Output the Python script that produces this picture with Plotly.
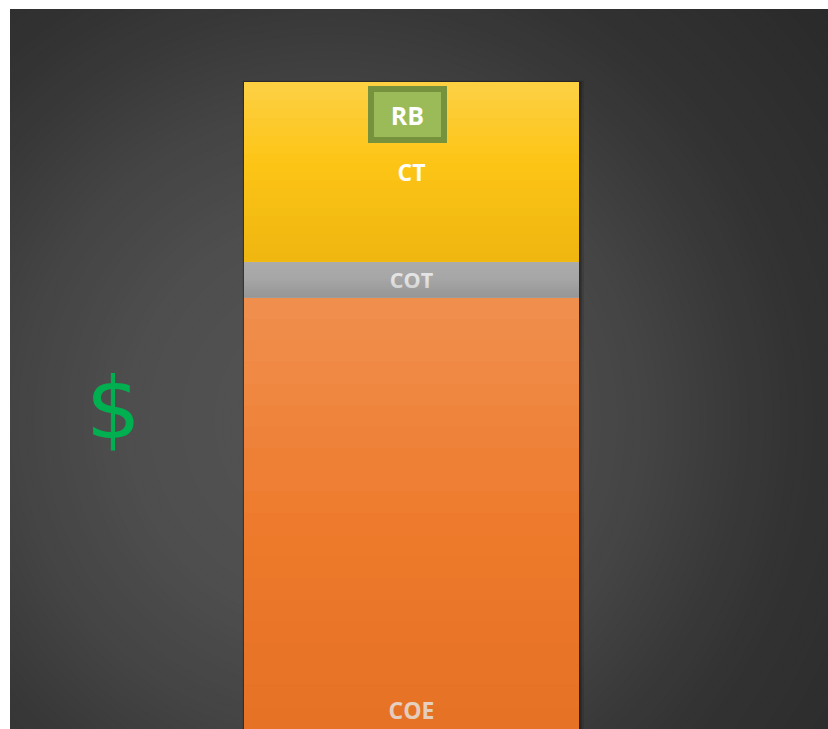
import plotly.graph_objects as go

# ---- data ----
categories = ["Total"]
values_coe = [60]
values_cot = [5]
values_ct = [25]
labels = ["COE", "COT", "CT"]
callout_label = "RB"
symbol_label = "$"

W, H = 828, 729
ML, MT = 10, 9
PW, PH = W - ML, H - MT          # plot area: page x 10..828, y 9..729
OX, OY = ML, MT

tot = values_coe[0] + values_cot[0] + values_ct[0]
b_ct = values_coe[0] + values_cot[0]

px_per_x = 335.0
x_left = -(411.5 - OX) / px_per_x
x_right = x_left + PW / px_per_x
px_per_y = (729 - 82) / tot
y_top = PH / px_per_y


def px2x(px):
    return x_left + (px - OX) / px_per_x


def py2y(py):
    return y_top - (py - OY) / px_per_y


lab_font = dict(family="Open Sans", size=23, weight="bold")

fig = go.Figure()
fig.add_trace(go.Bar(
    x=categories, y=values_coe, name=labels[0], width=1,
    marker=dict(color="#EE7A2C", line=dict(width=0)),
    text=[labels[0]], textposition="inside", insidetextanchor="start",
    textfont=dict(lab_font, color="#EDE3DA"), textangle=0, hoverinfo="skip"))
fig.add_trace(go.Bar(
    x=categories, y=values_cot, name=labels[1], width=1,
    marker=dict(color="#A6A6A6", line=dict(width=0)),
    text=[labels[1]], textposition="inside", insidetextanchor="middle",
    textfont=dict(lab_font, color="#E4E4E4"), textangle=0, hoverinfo="skip"))
fig.add_trace(go.Bar(
    x=categories, y=values_ct, name=labels[2], width=1,
    marker=dict(color="#FDC516", line=dict(width=0)),
    text=[labels[2]], textposition="inside", insidetextanchor="middle",
    textfont=dict(lab_font, color="#FFFFFF"), textangle=0, hoverinfo="skip"))

# ---- background radial glow (styling only) ----
shapes = []
cx, cy = 330, 420
stops = [(0, 84), (200, 78), (320, 68), (400, 58), (480, 50), (650, 42), (900, 40)]


def shade(r):
    for (r0, v0), (r1, v1) in zip(stops, stops[1:]):
        if r0 <= r <= r1:
            return v0 + (v1 - v0) * (r - r0) / (r1 - r0)
    return stops[-1][1]


n = 110
for i in range(n):
    r = 900 - i * (900 - 10) / (n - 1)
    v = shade(r)
    shapes.append(dict(type="circle", xref="x", yref="y",
                       x0=px2x(cx - r), x1=px2x(cx + r),
                       y0=py2y(cy + r), y1=py2y(cy - r),
                       fillcolor="rgb(%.1f,%.1f,%.1f)" % (v, v, v),
                       line=dict(width=0), layer="below"))

# soft shadow, offset to the right
for k, op in [(5, 0.10), (3, 0.15), (1.5, 0.2)]:
    shapes.append(dict(type="rect", xref="x", yref="y",
                       x0=-0.5 - 0.3 * k / px_per_x, x1=0.5 + k / px_per_x,
                       y0=0, y1=tot + 0.3 * k / px_per_y,
                       fillcolor="#000000", opacity=op, line=dict(width=0),
                       layer="below"))


def band(y0, y1, color, op):
    return dict(type="rect", xref="x", yref="y", x0=-0.5, x1=0.5, y0=y0, y1=y1,
                fillcolor=color, opacity=op, line=dict(width=0), layer="above")


steps = 20
for i in range(steps):
    f0, f1 = i / steps, (i + 1) / steps
    mid = (f0 + f1) / 2
    # CT
    y0, y1 = b_ct + values_ct[0] * f0, b_ct + values_ct[0] * f1
    if mid > 0.55:
        shapes.append(band(y0, y1, "#FFFFFF", (mid - 0.55) * 0.45))
    else:
        shapes.append(band(y0, y1, "#C89000", (0.55 - mid) * 0.5))
    # COE
    y0, y1 = values_coe[0] * f0, values_coe[0] * f1
    if mid > 0.45:
        shapes.append(band(y0, y1, "#FFFFFF", (mid - 0.45) * 0.3))
    else:
        shapes.append(band(y0, y1, "#B04000", (0.45 - mid) * 0.3))
    # COT
    y0, y1 = values_coe[0] + values_cot[0] * f0, values_coe[0] + values_cot[0] * f1
    if mid < 0.5:
        shapes.append(band(y0, y1, "#707070", (0.5 - mid) * 0.6))
    else:
        shapes.append(band(y0, y1, "#FFFFFF", (mid - 0.5) * 0.15))

annotations = [
    dict(x=px2x(407.5), y=tot - 4 / px_per_y, xref="x", yref="y",
         text="<b>%s</b>" % callout_label, showarrow=False,
         font=dict(family="Open Sans", size=25, color="#FFFFFF"),
         bgcolor="#9BBB59", bordercolor="#76923C", borderwidth=6,
         borderpad=3, width=61, height=39, yanchor="top", xanchor="center"),
    dict(x=px2x(113), y=py2y(408), xref="x", yref="y",
         text=symbol_label, showarrow=False, xanchor="center", yanchor="middle",
         font=dict(family="DejaVu Sans", size=86, color="#00B050")),
]

fig.update_layout(
    barmode="stack", bargap=0,
    width=W, height=H,
    margin=dict(l=ML, r=0, t=MT, b=0),
    paper_bgcolor="#FFFFFF", plot_bgcolor="#2A2A2A",
    showlegend=False,
    xaxis=dict(range=[x_left, x_right], visible=False, fixedrange=True),
    yaxis=dict(range=[0, y_top], visible=False, fixedrange=True),
    shapes=shapes, annotations=annotations,
)

fig.write_html(
    "out.html",
    config={"displayModeBar": False},
    post_script="document.body.style.margin='0';document.body.style.overflow='hidden';",
)
